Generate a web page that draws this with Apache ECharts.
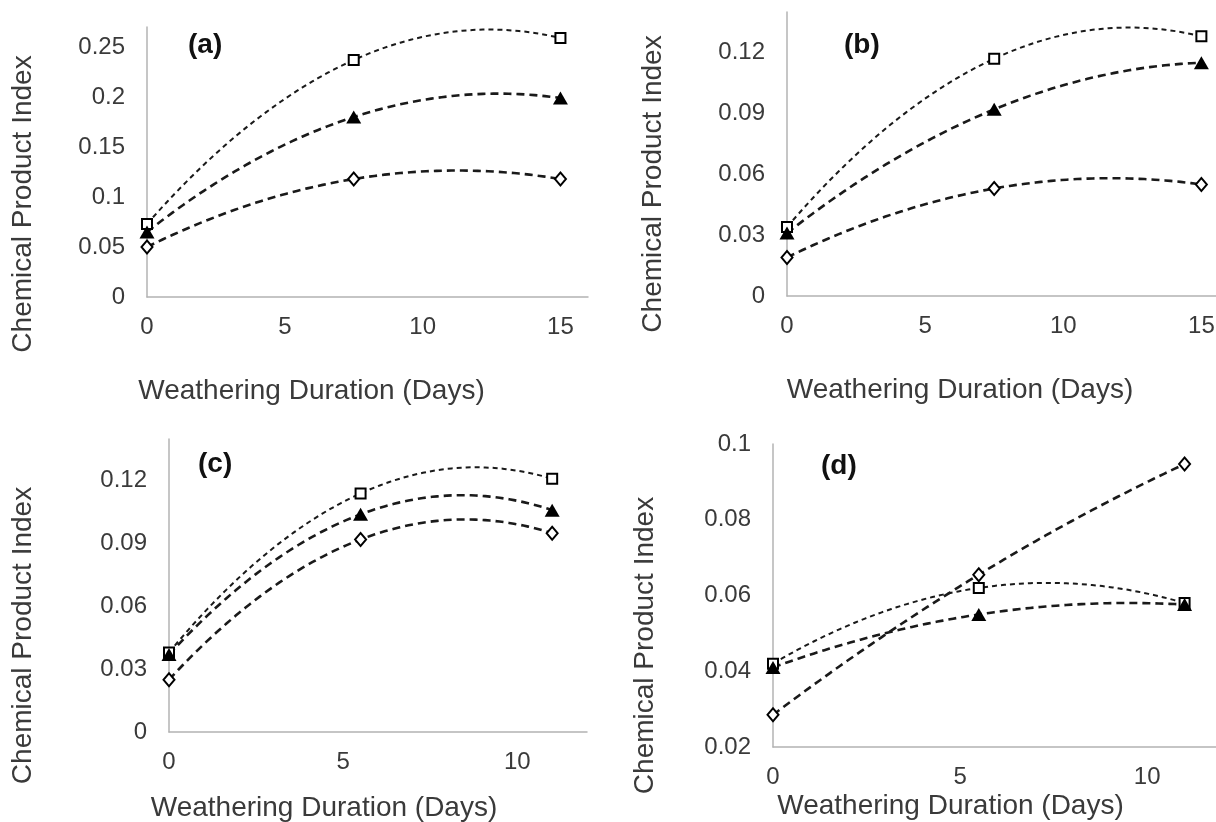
<!DOCTYPE html>
<html>
<head>
<meta charset="utf-8">
<script src="https://cdn.jsdelivr.net/npm/echarts@6/dist/echarts.min.js"></script>
<style>
  html, body { margin: 0; padding: 0; background: #fff; }
  #chart { width: 1216px; height: 822px; }
</style>
</head>
<body>
<div id="chart"></div>
<script>
// ---- data ----
const panelLabels = ['(a)', '(b)', '(c)', '(d)'];
const xAxisName = 'Weathering Duration (Days)';
const yAxisName = 'Chemical Product Index';

const daysAB = [0, 7.5, 15];
const daysCD = [0, 5.5, 11];

const aSquare   = [0.073, 0.237, 0.259];
const aTriangle = [0.065, 0.180, 0.199];
const aDiamond  = [0.050, 0.118, 0.118];

const bSquare   = [0.034, 0.117, 0.128];
const bTriangle = [0.031, 0.092, 0.115];
const bDiamond  = [0.019, 0.053, 0.055];

const cSquare   = [0.038, 0.114, 0.121];
const cTriangle = [0.037, 0.104, 0.106];
const cDiamond  = [0.025, 0.092, 0.095];

const dSquare   = [0.042, 0.062, 0.058];
const dTriangle = [0.041, 0.055, 0.0576];
const dDiamond  = [0.0285, 0.0655, 0.0947];

// axis ranges per panel
const xMax = [16, 16, 12, 12];
const xInterval = 5;
const yMin = [0, 0, 0, 0.02];
const yMax = [0.27, 0.14, 0.14, 0.1];
const yInterval = [0.05, 0.03, 0.03, 0.02];

// ---- layout ----
const grids = [
  { left: 147, top: 27,  width: 441, height: 270 },
  { left: 787, top: 12,  width: 442, height: 284 },
  { left: 169, top: 439, width: 418, height: 293 },
  { left: 773, top: 444, width: 449, height: 303 }
];
const xNameShift = [56, 48, 54, 47];
const yNameShift = [42, 30, 50, 50];
const xNameGap = [80, 80, 62, 45];
const yNameGap = [110, 120, 132, 114];

const TEXT = '#3a3a3a';
const AXIS = '#b3b3b3';
const LINE = '#1a1a1a';
const FONT = '"Liberation Sans", Arial, sans-serif';

const panels = [
  { days: daysAB, sq: aSquare, tr: aTriangle, di: aDiamond },
  { days: daysAB, sq: bSquare, tr: bTriangle, di: bDiamond },
  { days: daysCD, sq: cSquare, tr: cTriangle, di: cDiamond },
  { days: daysCD, sq: dSquare, tr: dTriangle, di: dDiamond }
];

// second-order polynomial trendline (as in the original spreadsheet chart),
// fitted to the three data points of a series and drawn through the axis scales
function trendRenderer(xs, ys, dash, width) {
  return function (params, api) {
    if (params.dataIndex !== 0) return null;
    const [x0, x1, x2] = xs, [y0, y1, y2] = ys;
    const f = x => y0 * (x - x1) * (x - x2) / ((x0 - x1) * (x0 - x2))
                 + y1 * (x - x0) * (x - x2) / ((x1 - x0) * (x1 - x2))
                 + y2 * (x - x0) * (x - x1) / ((x2 - x0) * (x2 - x1));
    const pts = [];
    const n = 80;
    for (let k = 0; k <= n; k++) {
      const x = x0 + (x2 - x0) * k / n;
      pts.push(api.coord([x, f(x)]));
    }
    return {
      type: 'polyline',
      shape: { points: pts },
      style: { stroke: LINE, lineWidth: width, lineDash: dash, fill: null }
    };
  };
}

const xAxes = [], yAxes = [], series = [], titles = [];
const titlePos = [[188, 31], [844, 31], [198, 450], [821, 452]];

panels.forEach((p, i) => {
  xAxes.push({
    type: 'value', gridIndex: i, min: 0, max: xMax[i], interval: xInterval,
    name: xAxisName, nameLocation: 'middle', nameGap: xNameGap[i],
    nameTextStyle: { color: TEXT, fontSize: 28, fontFamily: FONT, padding: [0, xNameShift[i] * 2, 0, 0] },
    axisLine: { show: true, onZero: false, lineStyle: { color: AXIS, width: 1.5 } },
    axisTick: { show: false },
    splitLine: { show: false },
    axisLabel: { color: TEXT, fontSize: 24, fontFamily: FONT, margin: 18, showMaxLabel: false }
  });
  yAxes.push({
    type: 'value', gridIndex: i, min: yMin[i], max: yMax[i], interval: yInterval[i],
    name: yAxisName, nameLocation: 'middle', nameGap: yNameGap[i],
    nameTextStyle: { color: TEXT, fontSize: 28, fontFamily: FONT, padding: [0, yNameShift[i] * 2, 0, 0] },
    axisLine: { show: true, lineStyle: { color: AXIS, width: 1.5 } },
    axisTick: { show: false },
    splitLine: { show: false },
    axisLabel: { color: TEXT, fontSize: 24, fontFamily: FONT, margin: 22, showMaxLabel: i === 3 }
  });
  const groups = [
    { vals: p.sq, symbol: 'rect', size: 10, fill: '#fff', dash: [5, 4], width: 2, z: 2 },
    { vals: p.tr, symbol: 'triangle', size: [15, 13], fill: '#000', dash: [8, 5], width: 2.6, z: 3 },
    { vals: p.di, symbol: 'diamond', size: [11, 13], fill: '#fff', dash: [8, 5], width: 2.6, z: 4 }
  ];
  groups.forEach(g => {
    const pts = p.days.map((d, k) => [d, g.vals[k]]);
    series.push({
      type: 'custom', xAxisIndex: i, yAxisIndex: i, data: pts,
      encode: { x: 0, y: 1 }, renderItem: trendRenderer(p.days, g.vals, g.dash, g.width),
      z: 1, silent: true, animation: false, clip: false
    });
  });
  groups.forEach(g => {
    const pts = p.days.map((d, k) => [d, g.vals[k]]);
    series.push({
      type: 'scatter', xAxisIndex: i, yAxisIndex: i, data: pts,
      symbol: g.symbol, symbolSize: g.size,
      itemStyle: { color: g.fill, borderColor: '#000', borderWidth: g.fill === '#000' ? 0 : 2, opacity: 1 },
      z: 5 + g.z, silent: true, animation: false
    });
  });
  titles.push({
    text: panelLabels[i], left: titlePos[i][0], top: titlePos[i][1], padding: 0,
    textStyle: { color: '#111', fontSize: 28, fontWeight: 'bold', fontFamily: FONT }
  });
});

const chart = echarts.init(document.getElementById('chart'), null, { renderer: 'canvas' });
chart.setOption({
  animation: false,
  backgroundColor: '#fff',
  title: titles,
  grid: grids.map(g => Object.assign({ containLabel: false, outerBoundsMode: 'none' }, g)),
  xAxis: xAxes,
  yAxis: yAxes,
  series: series
});
</script>
</body>
</html>
